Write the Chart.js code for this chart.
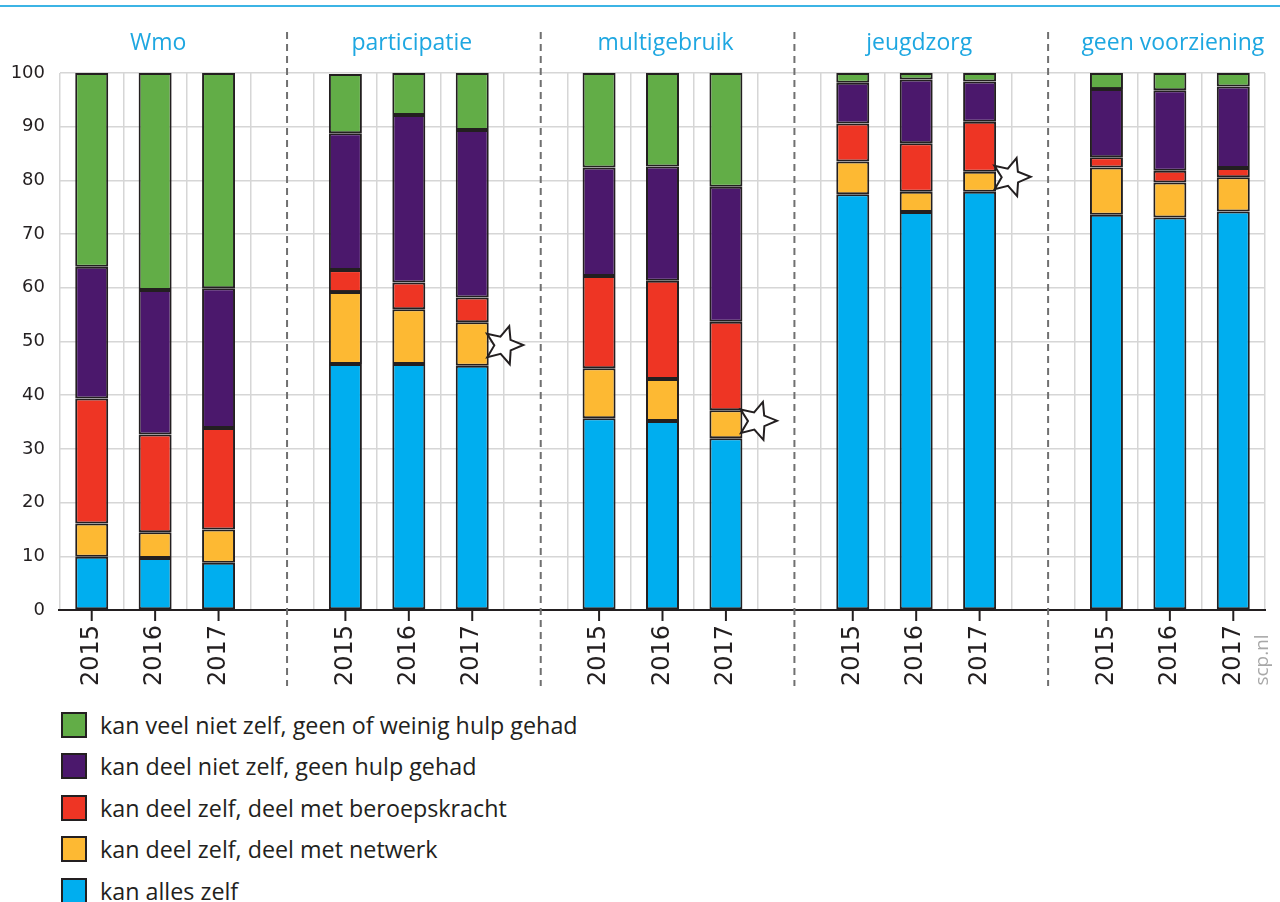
<!DOCTYPE html>
<html lang="nl">
<head>
<meta charset="UTF-8">
<title>Zelfredzaamheid naar voorziening, 2015-2017</title>
<script src="https://cdn.jsdelivr.net/npm/chart.js"></script>
<style>
    body {
        margin: 0;
        width: 1280px;
        height: 902px;
        overflow: hidden;
        background: #ffffff;
        font-family: 'Open Sans', sans-serif;
        position: relative;
    }

    .topline {
        position: absolute;
        left: 0;
        top: 5px;
        width: 1280px;
        height: 2px;
        background: #3cb4e5;
    }

    .chart-box {
        position: absolute;
        left: 0;
        top: 0;
        width: 1280px;
        height: 700px;
    }

    /* Legend */
    .legend {
        position: absolute;
        left: 61px;
        top: 704px;
    }

    .legend .item {
        display: flex;
        align-items: center;
        height: 41.5px;
        font-size: 23.3px;
        color: #231f20;
    }

    .legend .box {
        width: 22px;
        height: 22px;
        border: 2px solid #231f20;
        margin-right: 13px;
    }
</style>
</head>
<body>

<div class="topline"></div>
<div class="chart-box"><canvas id="chart"></canvas></div>
<div class="legend" id="legend"></div>

<script>
    // categories
    const groups = ['Wmo', 'participatie', 'multigebruik', 'jeugdzorg', 'geen voorziening'];
    const years = ['2015', '2016', '2017'];

    // percentages per bar (Wmo 2015..2017, participatie 2015..2017, ...)
    const kanAllesZelf      = [9.9, 9.7, 8.8,   45.8, 45.8, 45.5,  35.7, 35.2, 32.0,  77.4, 74.1, 77.9,  73.6, 73.1, 74.2];
    const deelMetNetwerk    = [6.2, 4.8, 6.2,   13.4, 10.2, 8.1,   9.3, 7.8, 5.2,     6.1, 3.8, 3.7,     8.8, 6.5, 6.4];
    const deelMetBeroeps    = [23.3, 18.2, 18.9, 4.1, 5.0, 4.6,    17.2, 18.3, 16.5,  7.1, 9.0, 9.3,     1.9, 2.2, 1.7];
    const deelGeenHulp      = [24.5, 26.9, 26.0, 25.5, 31.2, 31.2, 20.2, 21.3, 25.1,  7.6, 11.9, 7.5,    12.7, 15.0, 15.2];
    const veelWeinigHulp    = [36.1, 40.4, 40.1, 11.0, 7.8, 10.6,  17.6, 17.4, 21.2,  1.8, 1.2, 1.6,     3.0, 3.2, 2.5];

    // significant changes (star marks): bar number and height
    const starBars = [5, 8, 11];
    const starValues = [49.3, 35.2, 80.6];

    const seriesNames = [
        'kan alles zelf',
        'kan deel zelf, deel met netwerk',
        'kan deel zelf, deel met beroepskracht',
        'kan deel niet zelf, geen hulp gehad',
        'kan veel niet zelf, geen of weinig hulp gehad'
    ];
    const seriesColors = ['#00aeef', '#fdb933', '#ee3524', '#4b186c', '#62ad47'];

    // every group gets an empty slot after it, except the last one
    const slotOf = b => b + Math.floor(b / 3);
    const labels = [];
    groups.forEach((g, i) => {
        labels.push(...years);
        if (i < groups.length - 1) labels.push('');
    });
    function toSlots(values) {
        const out = labels.map(() => null);
        values.forEach((v, b) => { out[slotOf(b)] = v; });
        return out;
    }

    const allSeries = [kanAllesZelf, deelMetNetwerk, deelMetBeroeps, deelGeenHulp, veelWeinigHulp];
    const datasets = allSeries.map((s, i) => ({
        label: seriesNames[i],
        data: toSlots(s),
        backgroundColor: seriesColors[i],
        borderColor: '#231f20',
        borderWidth: 2,
        borderSkipped: false,
        barPercentage: 0.52,
        categoryPercentage: 1
    }));

    function drawStar(ctx, cx, cy, rOut, rIn, rot) {
        ctx.beginPath();
        for (let i = 0; i < 10; i++) {
            const r = i % 2 === 0 ? rOut : rIn;
            const a = rot - Math.PI / 2 + i * Math.PI / 5;
            const px = cx + r * Math.cos(a);
            const py = cy + r * Math.sin(a);
            if (i === 0) ctx.moveTo(px, py); else ctx.lineTo(px, py);
        }
        ctx.closePath();
        ctx.fillStyle = '#ffffff';
        ctx.fill();
        ctx.lineWidth = 2;
        ctx.strokeStyle = '#231f20';
        ctx.stroke();
    }

    const decor = {
        id: 'decor',
        afterDatasetsDraw(chart) {
            const { ctx, chartArea, scales: { x, y } } = chart;
            ctx.save();

            // x axis line
            ctx.strokeStyle = '#231f20';
            ctx.lineWidth = 2;
            ctx.beginPath();
            ctx.moveTo(chartArea.left - 2, chartArea.bottom);
            ctx.lineTo(chartArea.right + 1, chartArea.bottom);
            ctx.stroke();

            // tick marks under the bars
            ctx.lineWidth = 2;
            labels.forEach((l, i) => {
                if (!l) return;
                const px = x.getPixelForValue(i);
                ctx.beginPath();
                ctx.moveTo(px, chartArea.bottom);
                ctx.lineTo(px, chartArea.bottom + 11);
                ctx.stroke();
            });

            // dashed group separators
            ctx.strokeStyle = '#707070';
            ctx.lineWidth = 2;
            ctx.setLineDash([7, 5]);
            labels.forEach((l, i) => {
                if (l) return;
                const px = x.getPixelForValue(i + 0.08);
                ctx.beginPath();
                ctx.moveTo(px, 32);
                ctx.lineTo(px, 686);
                ctx.stroke();
            });
            ctx.setLineDash([]);

            // group titles
            ctx.fillStyle = '#1ea7e1';
            ctx.font = '23px "Open Sans"';
            ctx.textAlign = 'center';
            ctx.textBaseline = 'middle';
            groups.forEach((g, i) => {
                ctx.fillText(g, x.getPixelForValue(slotOf(i * 3 + 1)) + 3, 43);
            });

            // stars
            starBars.forEach((b, i) => {
                const px = x.getPixelForValue(slotOf(b) + 0.49);
                const py = y.getPixelForValue(starValues[i]);
                drawStar(ctx, px, py, 20, 9, 0.3);
            });

            // source
            ctx.translate(1263, 660);
            ctx.rotate(-Math.PI / 2);
            ctx.fillStyle = '#a8a8a8';
            ctx.font = '19px "Open Sans"';
            ctx.textAlign = 'center';
            ctx.textBaseline = 'middle';
            ctx.fillText('scp.nl', 0, 0);

            ctx.restore();
        }
    };

    new Chart(document.getElementById('chart'), {
        type: 'bar',
        data: { labels: labels, datasets: datasets },
        options: {
            responsive: true,
            maintainAspectRatio: false,
            animation: false,
            layout: { padding: { top: 73, right: 15, left: 0, bottom: 0 } },
            plugins: {
                legend: { display: false },
                tooltip: { enabled: false }
            },
            scales: {
                x: {
                    stacked: true,
                    afterFit: axis => { axis.height = 90; },
                    grid: { color: '#d6d6d6', lineWidth: 1.5, drawTicks: false, offset: true },
                    border: { display: false },
                    ticks: {
                        autoSkip: false,
                        minRotation: 90,
                        maxRotation: 90,
                        padding: 15,
                        color: '#231f20',
                        font: { family: 'DejaVu Sans', size: 24 }
                    }
                },
                y: {
                    stacked: true,
                    min: 0,
                    max: 100,
                    afterFit: axis => { axis.width = 60; },
                    grid: { color: '#d6d6d6', lineWidth: 1.5, drawTicks: false },
                    border: { display: false },
                    ticks: {
                        stepSize: 10,
                        padding: 15,
                        color: '#231f20',
                        font: { family: 'DejaVu Sans', size: 18 }
                    }
                }
            }
        },
        plugins: [decor]
    });

    // legend, top series first
    const legendEl = document.getElementById('legend');
    for (let i = seriesNames.length - 1; i >= 0; i--) {
        legendEl.innerHTML += `
            <div class="item"><span class="box" style="background:${seriesColors[i]}"></span>${seriesNames[i]}</div>`;
    }
</script>

</body>
</html>
